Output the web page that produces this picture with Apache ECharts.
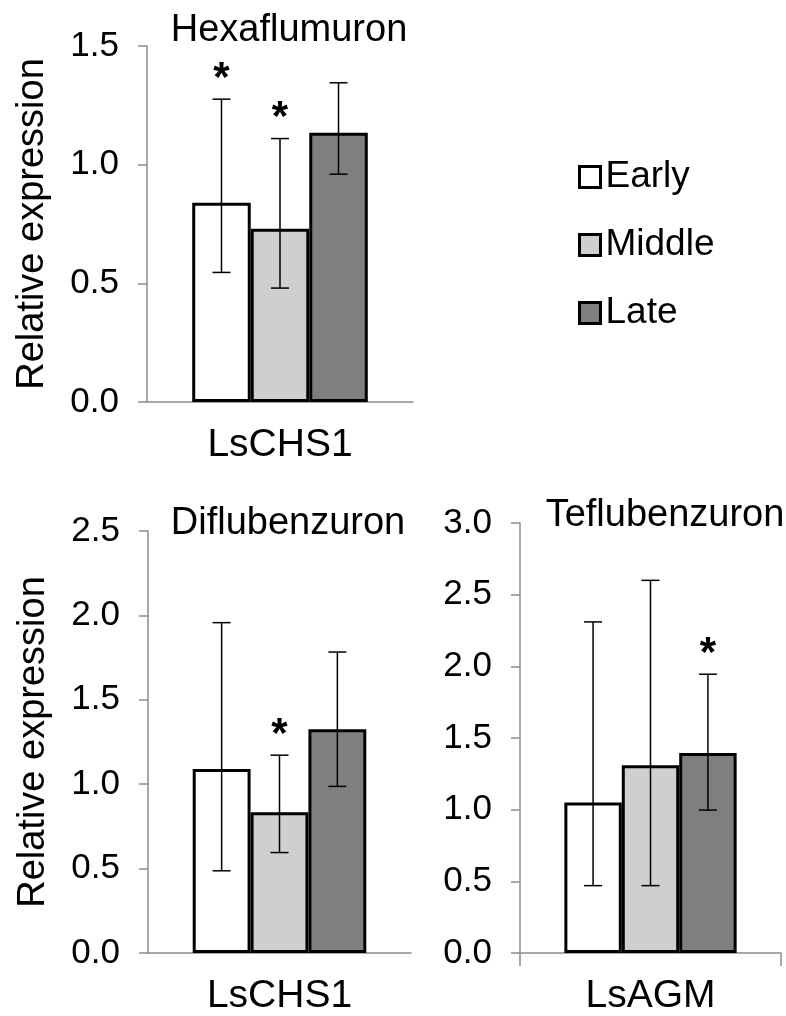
<!DOCTYPE html>
<html>
<head>
<meta charset="utf-8">
<script src="https://cdn.jsdelivr.net/npm/echarts@6/dist/echarts.min.js"></script>
<style>
html,body{margin:0;padding:0;background:#fff;}
#chart{width:786px;height:1016px;}
</style>
</head>
<body>
<div id="chart"></div>
<script>
// ---- data ----
const stageNames = ['Early', 'Middle', 'Late'];
const panelTitles = ['Hexaflumuron', 'Diflubenzuron', 'Teflubenzuron'];
const panelCategories = [['LsCHS1'], ['LsCHS1'], ['LsAGM']];
const yMaxes = [1.5, 2.5, 3.0];

const hexMean = [0.84, 0.73, 1.135];
const hexLow  = [0.546, 0.48, 0.96];
const hexHigh = [1.276, 1.11, 1.345];
const hexSig  = [1, 1, 0];

const difMean = [1.09, 0.834, 1.325];
const difLow  = [0.487, 0.595, 0.987];
const difHigh = [1.957, 1.172, 1.783];
const difSig  = [0, 1, 0];

const tefMean = [1.05, 1.31, 1.395];
const tefLow  = [0.47, 0.47, 0.997];
const tefHigh = [2.31, 2.60, 1.945];
const tefSig  = [0, 0, 1];

const panels = [
  {mean: hexMean, low: hexLow, high: hexHigh, sig: hexSig},
  {mean: difMean, low: difLow, high: difHigh, sig: difSig},
  {mean: tefMean, low: tefLow, high: tefHigh, sig: tefSig}
];

// ---- style ----
const FONT = 'Liberation Sans, Arial, sans-serif';
const stageColors = ['#ffffff', '#d0cece', '#7f7f7f'];
const AXIS_COLOR = '#8c8c8c';
const GAP = 0.34;

const grids = [
  {left: 147, top: 46, width: 266, height: 356},
  {left: 148, top: 531, width: 263, height: 425},
  {left: 520, top: 523, width: 261, height: 434}
];

const chart = echarts.init(document.getElementById('chart'), null, {renderer: 'canvas'});

const xAxes = panels.map((p, g) => ({
  type: 'category',
  gridIndex: g,
  data: panelCategories[g],
  axisLine: {show: true, lineStyle: {color: AXIS_COLOR, width: 1.5}},
  axisTick: {show: g === 2, length: 13, lineStyle: {color: AXIS_COLOR, width: 1.5}},
  axisLabel: {fontSize: 39, color: '#000', fontFamily: FONT, margin: 24},
  splitLine: {show: false}
}));

const yAxes = panels.map((p, g) => ({
  type: 'value',
  gridIndex: g,
  min: 0,
  max: yMaxes[g],
  interval: 0.5,
  name: g < 2 ? 'Relative expression' : '',
  nameLocation: 'middle',
  nameGap: 95,
  nameTextStyle: {fontSize: 38, color: '#000', fontFamily: FONT},
  axisLine: {show: true, lineStyle: {color: AXIS_COLOR, width: 1.5}},
  axisTick: {show: true, length: 9, lineStyle: {color: AXIS_COLOR, width: 1.5}},
  axisLabel: {fontSize: 35, color: '#000', fontFamily: FONT, margin: 28,
    formatter: v => v.toFixed(1)},
  splitLine: {show: false}
}));

const series = [];
panels.forEach((p, g) => {
  stageNames.forEach((name, i) => {
    series.push({
      type: 'bar',
      name: name,
      xAxisIndex: g,
      yAxisIndex: g,
      data: [p.mean[i]],
      barGap: '0%',
      barCategoryGap: (GAP * 100) + '%',
      itemStyle: {color: stageColors[i], borderColor: '#000', borderWidth: 3},
      emphasis: {disabled: true},
      silent: true,
      z: 2
    });
  });
  series.push({
    type: 'custom',
    name: 'err' + g,
    xAxisIndex: g,
    yAxisIndex: g,
    silent: true,
    z: 10,
    data: stageNames.map((s, i) => [0, i, p.low[i], p.high[i], p.sig[i]]),
    encode: {x: 0, y: [2, 3]},
    renderItem: function (params, api) {
      const idx = api.value(1);
      const top = api.coord([api.value(0), api.value(3)]);
      const bot = api.coord([api.value(0), api.value(2)]);
      const band = api.size([1, 0])[0];
      const bw = band * (1 - GAP) / 3;
      const x = top[0] + (idx - 1) * bw;
      const cap = 9;
      const ls = {stroke: '#000', lineWidth: 1.5};
      const children = [
        {type: 'line', shape: {x1: x, y1: top[1], x2: x, y2: bot[1]}, style: ls},
        {type: 'line', shape: {x1: x - cap, y1: top[1], x2: x + cap, y2: top[1]}, style: ls},
        {type: 'line', shape: {x1: x - cap, y1: bot[1], x2: x + cap, y2: bot[1]}, style: ls}
      ];
      if (api.value(4)) {
        children.push({
          type: 'text',
          style: {
            text: '*', x: x, y: top[1] - 20,
            align: 'center', verticalAlign: 'middle',
            fontSize: 42, fontWeight: 'bold', fontFamily: FONT, fill: '#000'
          }
        });
      }
      return {type: 'group', children: children};
    }
  });
});

const titleStyle = {fontSize: 38, fontWeight: 'normal', color: '#000', fontFamily: FONT};
const option = {
  backgroundColor: '#fff',
  animation: false,
  title: [
    {text: panelTitles[0], left: 284, top: 7, textAlign: 'center', textStyle: titleStyle},
    {text: panelTitles[1], left: 283, top: 500, textAlign: 'center', textStyle: titleStyle},
    {text: panelTitles[2], left: 660, top: 492, textAlign: 'center', textStyle: titleStyle}
  ],
  legend: {
    data: stageNames,
    orient: 'vertical',
    left: 573,
    top: 152,
    icon: 'rect',
    itemWidth: 21,
    itemHeight: 21,
    itemGap: 28,
    selectedMode: false,
    itemStyle: {borderColor: '#000', borderWidth: 3},
    textStyle: {fontSize: 37, color: '#000', fontFamily: FONT, lineHeight: 40}
  },
  grid: grids,
  xAxis: xAxes,
  yAxis: yAxes,
  series: series
};

chart.setOption(option);
</script>
</body>
</html>
